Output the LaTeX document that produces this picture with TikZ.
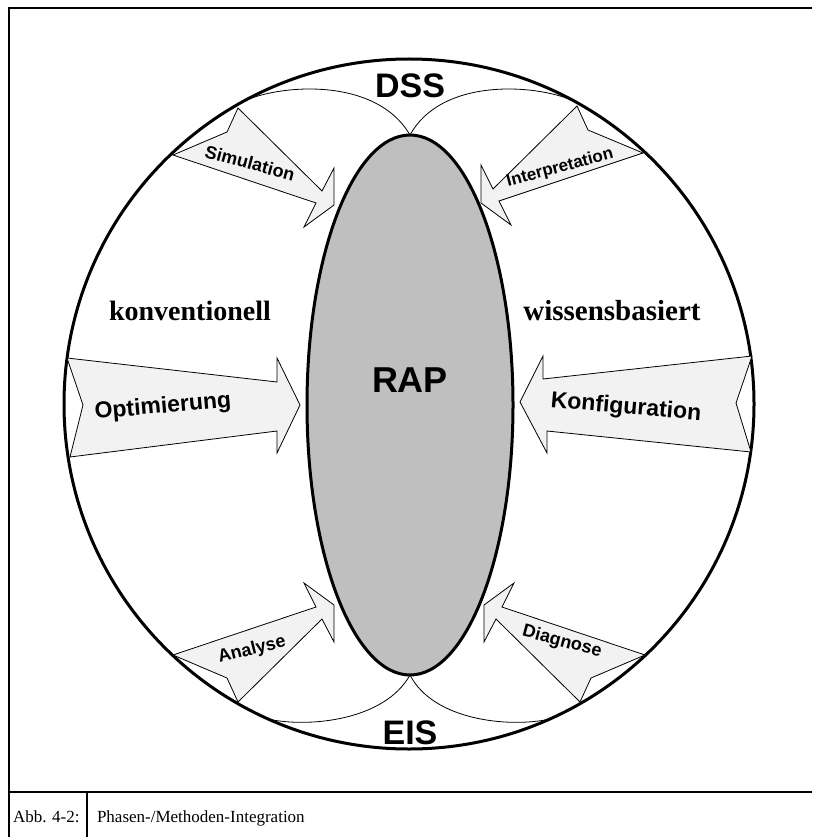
\documentclass[tikz,border=0pt]{standalone}
\usepackage{fontspec}
\setmainfont{Liberation Serif}
\setsansfont{Liberation Sans}
\usetikzlibrary{shapes.geometric}
\begin{document}
\begin{tikzpicture}[x=1pt, y=-1pt,
    every node/.style={inner sep=0pt, outer sep=0pt},
    phase/.style={draw, fill=gray!10, line width=0.8pt, line join=miter},
    bogen/.style={line width=0.8pt},
    methode/.style={font=\sffamily\bfseries\fontsize{18}{20}\selectfont},
    system/.style={font=\sffamily\bfseries\fontsize{34}{40}\selectfont},
    ansatz/.style={font=\bfseries\fontsize{28}{32}\selectfont},
    legende/.style={anchor=base west, font=\fontsize{17}{20}\selectfont}]
    \useasboundingbox (0,0) rectangle (812,837);

    % frame and caption
    \draw[line width=2pt] (812,8) -- (9,8) -- (9,837);
    \draw[line width=2pt] (9,792) -- (812,792);
    \draw[line width=1.5pt] (87,792) -- (87,837);
    \node[legende] (abb) at (13,822) {Abb. 4-2:};
    \node[legende] (titel) at (97,822) {Phasen-/Methoden-Integration};

    \node[circle, draw, line width=3pt, minimum size=690pt] (world) at (409,404) {};

    % thin arcs between circle and RAP
    \coordinate (raptop) at (410,135);
    \coordinate (rapbot) at (410,675);
    \draw[bogen] (world.119) .. controls (275,85) and (375,75) .. (raptop);
    \draw[bogen] (world.61) .. controls (543,85) and (443,75) .. (raptop);
    \draw[bogen] (world.246) .. controls (310,728) and (385,720) .. (rapbot);
    \draw[bogen] (world.294) .. controls (508,728) and (433,720) .. (rapbot);

    \node[ellipse, draw, fill=gray!50, line width=3pt, minimum width=206pt, minimum height=540pt] (rap) at (410,405) {};

    % arrows
    \draw[phase] (173,155) -- (316,203) -- (304,227) -- (334,205) -- (334,168) -- (322,191) -- (238,108) -- (227,132) -- cycle;
    \draw[phase] (643,153) -- (499,201) -- (511,225) -- (481,203) -- (481,165) -- (493,189) -- (577,106) -- (588,130) -- cycle;
    \draw[phase] (67,358) -- (277,382) -- (277,358) -- (300,405) -- (277,453) -- (277,431) -- (70,457) -- (83,405) -- cycle;
    \draw[phase] (752,356) -- (543,379) -- (543,356) -- (520,402) -- (547,453) -- (547,431) -- (751,452) -- (736,403) -- cycle;
    \draw[phase] (173,655) -- (316,607) -- (304,583) -- (334,605) -- (334,642) -- (322,619) -- (238,702) -- (227,678) -- cycle;
    \draw[phase] (645,655) -- (502,607) -- (514,583) -- (484,605) -- (484,642) -- (496,619) -- (580,702) -- (591,678) -- cycle;

    % labels
    \node[system] (dss) at (410,86) {DSS};
    \node[system] (eis) at (410,733) {EIS};
    \node[system, font=\sffamily\bfseries\fontsize{36}{40}\selectfont] (raplabel) at (410,380) {RAP};
    \node[ansatz] (konv) at (190,311) {konventionell};
    \node[ansatz, font=\bfseries\fontsize{29}{32}\selectfont] (wiss) at (612,311) {wissensbasiert};
    \node[methode, rotate=-15] (sim) at (250,163) {Simulation};
    \node[methode, font=\sffamily\bfseries\fontsize{17}{20}\selectfont, rotate=15] (interp) at (560,168) {Interpretation};
    \node[methode, font=\sffamily\bfseries\fontsize{23}{26}\selectfont, rotate=5] (opt) at (163,407) {Optimierung};
    \node[methode, font=\sffamily\bfseries\fontsize{23}{26}\selectfont, rotate=-5] (konf) at (626,408) {Konfiguration};
    \node[methode, rotate=14] (ana) at (252,650) {Analyse};
    \node[methode, rotate=-15] (diag) at (562,642) {Diagnose};
\end{tikzpicture}
\end{document}
